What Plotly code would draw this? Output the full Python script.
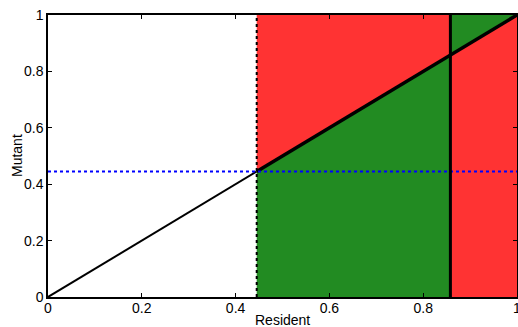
import plotly.graph_objects as go

# Data
x_singular = 0.445      # singular strategy (dotted lines)
x_boundary = 0.858      # second boundary (solid vertical line)
tick_vals = [0, 0.2, 0.4, 0.6, 0.8, 1]
tick_text = ["0", "0.2", "0.4", "0.6", "0.8", "1"]

RED = "#FF3333"
GREEN = "#228B22"

s, b = x_singular, x_boundary
regions = [
    ([s, s, b, b, s], [s, 1, 1, b, s], RED),
    ([s, s, b, b, s], [0, s, b, 0, 0], GREEN),
    ([b, b, 1, b], [b, 1, 1, b], GREEN),
    ([b, b, 1, 1, b], [0, b, 1, 0, 0], RED),
]

fig = go.Figure()
for xs, ys, c in regions:
    fig.add_trace(go.Scatter(x=xs, y=ys, fill="toself", fillcolor=c,
                             line=dict(width=0, color=c), mode="lines",
                             hoverinfo="skip", showlegend=False))

# diagonal
fig.add_trace(go.Scatter(x=[0, s], y=[0, s], mode="lines",
                         line=dict(color="black", width=2), showlegend=False))
fig.add_trace(go.Scatter(x=[s, 1], y=[s, 1], mode="lines",
                         line=dict(color="black", width=3.5), showlegend=False))
# vertical dotted at singular strategy
fig.add_trace(go.Scatter(x=[s, s], y=[0, 1], mode="lines",
                         line=dict(color="black", width=2, dash="dot"), showlegend=False))
# horizontal blue dotted
fig.add_trace(go.Scatter(x=[0, 1], y=[s, s], mode="lines",
                         line=dict(color="#0000FF", width=2, dash="dot"), showlegend=False))
# solid vertical boundary
fig.add_trace(go.Scatter(x=[b, b], y=[0, 1], mode="lines",
                         line=dict(color="black", width=3), showlegend=False))

FONT = "Liberation Sans, Arial"
axis_common = dict(range=[0, 1], tickvals=tick_vals, ticktext=tick_text,
                   ticks="inside", ticklen=4, tickcolor="black", tickwidth=1,
                   showline=True, linecolor="black", linewidth=1.5, mirror="ticks",
                   showgrid=False, zeroline=False, automargin=False,
                   ticklabeloverflow="allow",
                   tickfont=dict(family=FONT, size=14, color="black"))

fig.update_layout(
    width=518, height=327,
    margin=dict(l=48, r=1, t=15, b=30),
    paper_bgcolor="white", plot_bgcolor="white",
    xaxis=dict(**axis_common, ticklabelstandoff=-3),
    yaxis=dict(**axis_common),
    annotations=[
        dict(text="Resident", xref="paper", yref="paper", x=0.5, y=0,
             xanchor="center", yanchor="middle", yshift=-23, showarrow=False,
             font=dict(family=FONT, size=14, color="black")),
        dict(text="Mutant", xref="paper", yref="paper", x=0, y=0.5,
             xanchor="center", yanchor="middle", xshift=-31, textangle=-90,
             showarrow=False, font=dict(family=FONT, size=14, color="black")),
    ],
)

fig.write_html("out.html", config={"displayModeBar": False},
               post_script="document.body.style.margin='0';document.body.style.padding='0';")
